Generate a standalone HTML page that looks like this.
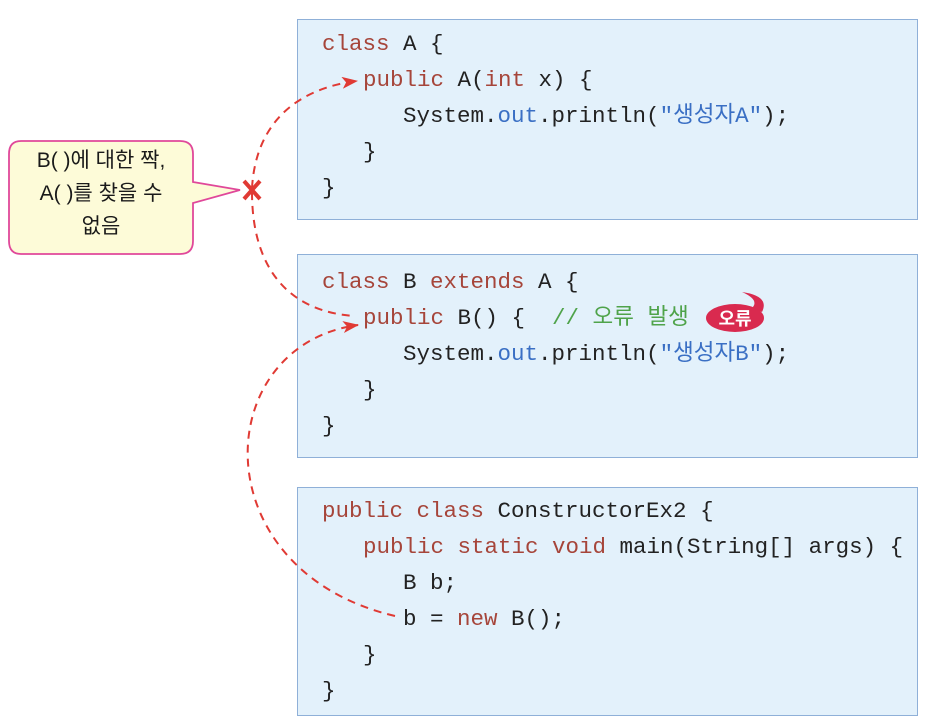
<!DOCTYPE html>
<html><head><meta charset="utf-8"><style>
body{margin:0;width:927px;height:721px;background:#fff;position:relative;overflow:hidden;font-family:"Liberation Sans","Noto Sans CJK KR",sans-serif}
.box{position:absolute;left:297px;width:621px;background:#e3f1fb;border:1.5px solid #8fb0d8;box-sizing:border-box}
.l{position:absolute;white-space:pre;font-family:"Liberation Mono","Noto Sans CJK KR",monospace;font-size:22.5px;line-height:26px;color:#222}
.k{color:#a6453a}.b{color:#3a6fc4}.g{color:#4fa34a}
</style></head><body>
<div class="box" style="top:19px;height:201px"></div>
<div class="box" style="top:254px;height:204px"></div>
<div class="box" style="top:487px;height:229px"></div>

<div class="l" style="left:322px;top:31px"><span class="k">class</span> A {</div>
<div class="l" style="left:363px;top:67px"><span class="k">public</span> A(<span class="k">int</span> x) {</div>
<div class="l" style="left:403px;top:103px">System.<span class="b">out</span>.println(<span class="b">"생성자A"</span>);</div>
<div class="l" style="left:363px;top:139px">}</div>
<div class="l" style="left:322px;top:175px">}</div>

<div class="l" style="left:322px;top:269px"><span class="k">class</span> B <span class="k">extends</span> A {</div>
<div class="l" style="left:363px;top:305px"><span class="k">public</span> B() {  <span class="g">// 오류 발생</span></div>
<div class="l" style="left:403px;top:341px">System.<span class="b">out</span>.println(<span class="b">"생성자B"</span>);</div>
<div class="l" style="left:363px;top:377px">}</div>
<div class="l" style="left:322px;top:413px">}</div>

<div class="l" style="left:322px;top:498px"><span class="k">public class</span> ConstructorEx2 {</div>
<div class="l" style="left:363px;top:534px"><span class="k">public static void</span> main(String[] args) {</div>
<div class="l" style="left:403px;top:570px">B b;</div>
<div class="l" style="left:403px;top:606px">b = <span class="k">new</span> B();</div>
<div class="l" style="left:363px;top:642px">}</div>
<div class="l" style="left:322px;top:678px">}</div>

<svg width="927" height="721" style="position:absolute;left:0;top:0">
<defs><marker id="a" markerWidth="16" markerHeight="12" refX="15" refY="6" orient="auto" markerUnits="userSpaceOnUse"><path d="M0,0 L16,6 L0,12 L4,6 Z" fill="#e03a34"/></marker></defs>
<g fill="none" stroke="#e03a34" stroke-width="2" stroke-dasharray="8,6">
<path d="M252,188 C256,120 300,88 357,81" marker-end="url(#a)"/>
<path d="M252,192 C252,270 290,312 355,316"/>
<path d="M395,616 C200,570 210,345 358,325" marker-end="url(#a)"/>
</g>
<path d="M244,181 L260,199 M260,181 L244,199" stroke="#e03a34" stroke-width="4"/>
<path d="M21,141 H180 Q193,141 193,154 V182 L240,190 L193,203 V241 Q193,254 180,254 H21 Q9,254 9,241 V154 Q9,141 21,141 Z" fill="#fdfbd8" stroke="#e0489a" stroke-width="1.8"/>
<path d="M752,308 Q760,300 742,292 Q770,296 762,312 Z" fill="#d92a4f"/>
<ellipse cx="735" cy="318" rx="29" ry="14" fill="#d92a4f"/>
<text x="735" y="325" fill="#fff" font-size="18" font-weight="bold" text-anchor="middle" font-family="Liberation Sans,Noto Sans CJK KR,sans-serif">오류</text>
</svg>
<div style="position:absolute;left:9px;top:144px;width:184px;text-align:center;font-size:21px;line-height:33px;color:#1a1a1a">B( )에 대한 짝,<br>A( )를 찾을 수<br>없음</div>
</body></html>
